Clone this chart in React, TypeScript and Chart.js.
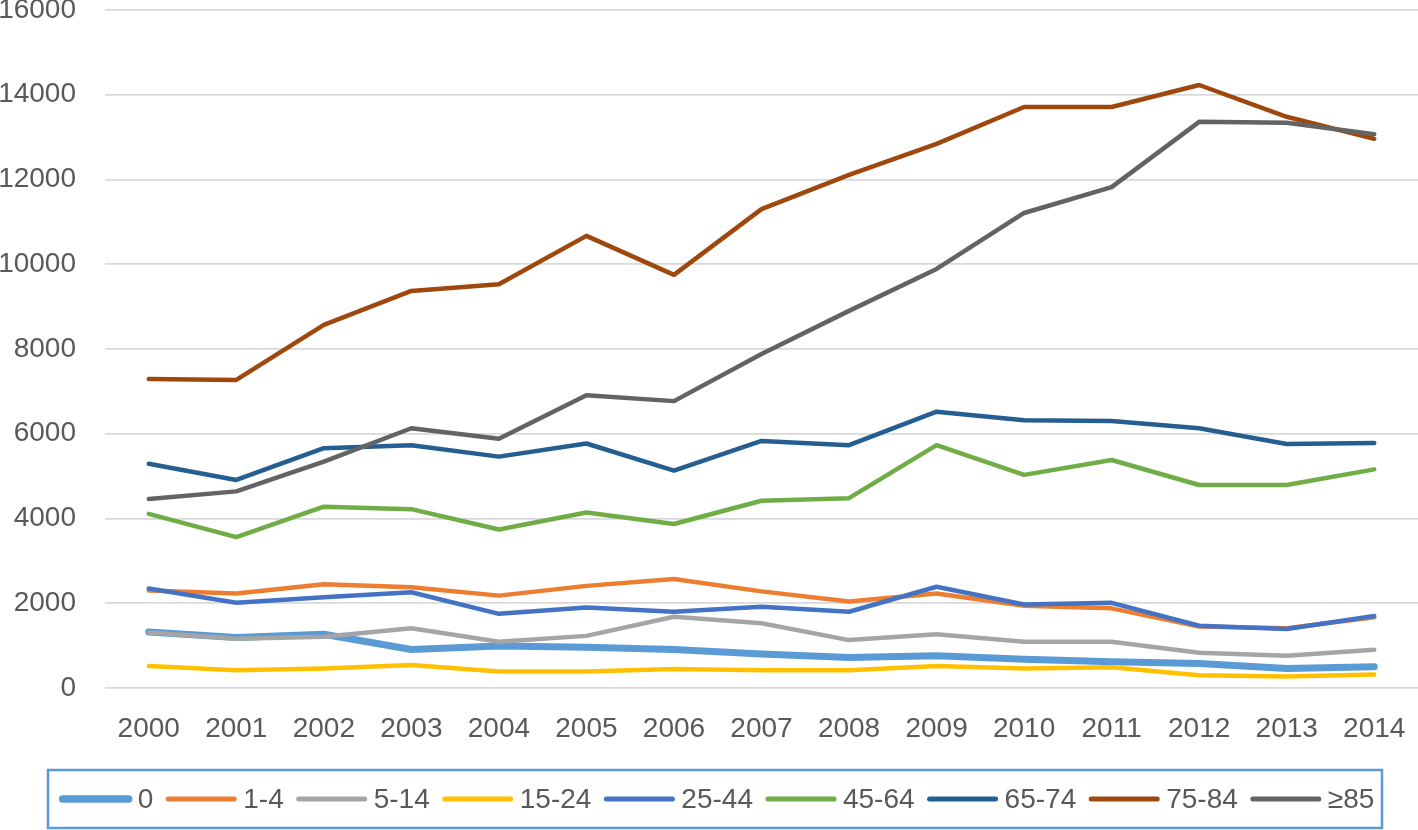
import React, { useEffect, useRef } from "react";
import { Chart, registerables } from "chart.js";

Chart.register(...registerables);

const years = ["2000","2001","2002","2003","2004","2005","2006","2007","2008","2009","2010","2011","2012","2013","2014"];
const seriesLabels = ["0","1-4","5-14","15-24","25-44","45-64","65-74","75-84","≥85"];
const age0 = [1320,1190,1270,910,990,960,910,800,720,760,680,620,580,460,500];
const age1_4 = [2300,2230,2450,2380,2180,2410,2570,2280,2040,2230,1940,1880,1450,1410,1670];
const age5_14 = [1310,1160,1210,1410,1090,1230,1680,1530,1130,1270,1090,1090,830,760,900];
const age15_24 = [520,420,460,540,390,390,450,420,420,520,460,490,300,270,320];
const age25_44 = [2350,2010,2140,2260,1750,1900,1800,1920,1800,2390,1970,2010,1470,1390,1700];
const age45_64 = [4110,3560,4280,4220,3740,4140,3870,4420,4480,5730,5030,5380,4790,4790,5160];
const age65_74 = [5290,4910,5660,5730,5460,5770,5130,5830,5730,6520,6320,6300,6130,5760,5780];
const age75_84 = [7290,7270,8570,9370,9530,10670,9750,11300,12110,12840,13710,13710,14230,13480,12960];
const age85 = [4460,4640,5340,6130,5880,6910,6770,7880,8900,9890,11210,11820,13360,13340,13070];
const yTicks = [0,2000,4000,6000,8000,10000,12000,14000,16000];

const seriesData = [age0, age1_4, age5_14, age15_24, age25_44, age45_64, age65_74, age75_84, age85];
const colors = ["#5B9BD5","#ED7D31","#A5A5A5","#FFC000","#4472C4","#70AD47","#255E91","#9E480E","#636363"];
const widths = [7,4.5,4.5,4.5,4.5,4.5,4.5,4.5,4.5];

const FONT = "'Liberation Sans', Arial, sans-serif";

const legendPlugin = {
  id: "boxLegend",
  afterDraw(chart: any) {
    const ctx = chart.ctx;
    const boxL = 48, boxT = 770, boxR = 1382, boxB = 828;
    ctx.save();
    ctx.strokeStyle = "#5B9BD5";
    ctx.lineWidth = 2.5;
    ctx.strokeRect(boxL, boxT, boxR - boxL, boxB - boxT);
    ctx.font = `28px ${FONT}`;
    const sampleW = 72, gapText = 6, gapItem = 12;
    const items = chart.data.datasets.map((d: any) => ({
      label: d.label, color: d.borderColor, w: d.borderWidth,
      tw: ctx.measureText(d.label).width,
    }));
    let total = 0;
    items.forEach((it: any, i: number) => {
      total += sampleW + gapText + it.tw + (i < items.length - 1 ? gapItem : 0);
    });
    let x = (boxL + boxR) / 2 - total / 2 + 2;
    const y = (boxT + boxB) / 2;
    ctx.textBaseline = "middle";
    ctx.textAlign = "left";
    items.forEach((it: any) => {
      ctx.beginPath();
      ctx.strokeStyle = it.color;
      ctx.lineWidth = it.w > 5 ? 7.5 : 5;
      ctx.lineCap = "round";
      ctx.moveTo(x + 3, y);
      ctx.lineTo(x + sampleW - 3, y);
      ctx.stroke();
      ctx.fillStyle = "#595959";
      ctx.fillText(it.label, x + sampleW + gapText, y + 1);
      x += sampleW + gapText + it.tw + gapItem;
    });
    ctx.restore();
  },
};

export default function App() {
  const ref = useRef<HTMLCanvasElement | null>(null);
  useEffect(() => {
    if (!ref.current) return;
    const chart = new Chart(ref.current, {
      type: "line",
      data: {
        labels: years,
        datasets: seriesData.map((d, i) => ({
          label: seriesLabels[i],
          data: d,
          borderColor: colors[i],
          backgroundColor: colors[i],
          borderWidth: widths[i],
          pointRadius: 0,
          tension: 0,
          fill: false,
          borderCapStyle: "round" as const,
          borderJoinStyle: "round" as const,
          order: seriesData.length - i,
        })),
      },
      options: {
        animation: false,
        responsive: false,
        maintainAspectRatio: false,
        layout: { padding: { top: 10, right: 0, bottom: 0, left: 0 } },
        plugins: {
          legend: { display: false },
          tooltip: { enabled: false },
        },
        scales: {
          x: {
            offset: true,
            grid: { display: false, drawTicks: false },
            border: { display: false },
            ticks: {
              color: "#595959",
              font: { family: FONT, size: 28 },
              padding: 24,
              autoSkip: false,
              maxRotation: 0,
            },
            afterFit: (s: any) => { s.height = 142; s.paddingLeft = 0; s.paddingRight = 0; },
          },
          y: {
            min: 0,
            max: 16000,
            afterBuildTicks: (s: any) => { s.ticks = yTicks.map((v) => ({ value: v })); },
            grid: { color: "#D9D9D9", lineWidth: 1.8, drawTicks: false },
            border: { display: false },
            ticks: {
              color: "#595959",
              font: { family: FONT, size: 28 },
              padding: 29,
              callback: (v: any) => String(v),
            },
            afterFit: (s: any) => { s.width = 105; s.paddingTop = 0; s.paddingBottom = 0; },
          },
        },
      },
      plugins: [legendPlugin],
    });
    return () => chart.destroy();
  }, []);
  return (
    <div style={{ position: "fixed", left: 0, top: 0, width: 1418, height: 830, background: "#fff" }}>
      <canvas ref={ref} width={1418} height={830} style={{ width: 1418, height: 830 }} />
    </div>
  );
}
